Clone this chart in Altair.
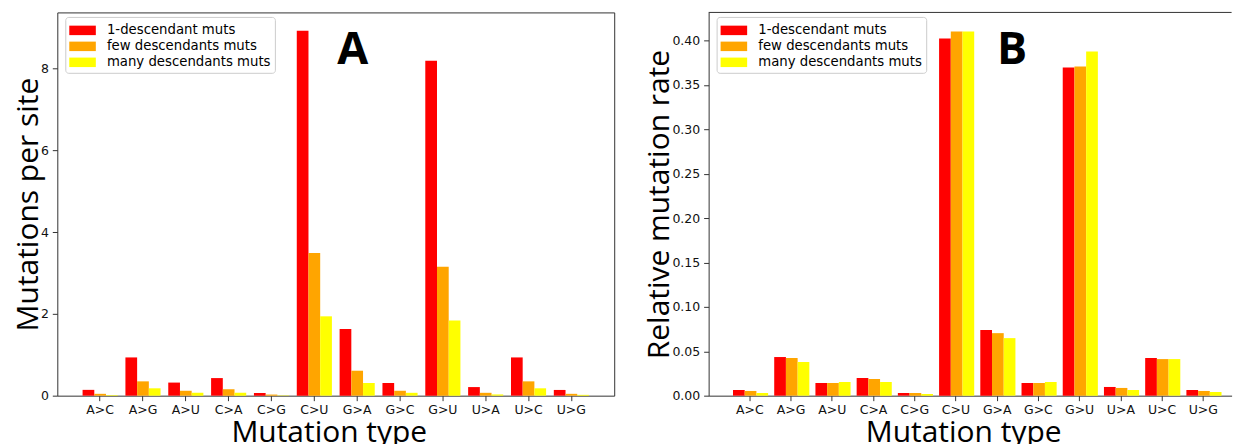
import altair as alt
import pandas as pd

mutation_types = ["A>C", "A>G", "A>U", "C>A", "C>G", "C>U",
                  "G>A", "G>C", "G>U", "U>A", "U>C", "U>G"]
groups = ["1-descendant muts", "few descendants muts", "many descendants muts"]
colors = ["#ff0000", "#ffa500", "#ffff00"]

# Panel A: mutations per site
a_one = [0.142, 0.935, 0.32, 0.43, 0.065, 8.92, 1.63, 0.31, 8.19, 0.21, 0.935, 0.14]
a_few = [0.045, 0.35, 0.12, 0.16, 0.027, 3.49, 0.61, 0.12, 3.15, 0.07, 0.35, 0.045]
a_many = [0.014, 0.18, 0.07, 0.07, 0.009, 1.94, 0.31, 0.07, 1.84, 0.03, 0.18, 0.02]

# Panel B: relative mutation rate
b_one = [0.0064, 0.0435, 0.0143, 0.0199, 0.003, 0.402, 0.0738, 0.0143, 0.3695, 0.0098, 0.0424, 0.0064]
b_few = [0.0053, 0.0424, 0.0143, 0.0188, 0.003, 0.410, 0.0704, 0.0143, 0.3705, 0.0087, 0.0412, 0.0053]
b_many = [0.003, 0.0379, 0.0154, 0.0154, 0.0019, 0.410, 0.0648, 0.0154, 0.3875, 0.0064, 0.0412, 0.0042]

a_ticks = [0, 2, 4, 6, 8]
b_ticks = [0.0, 0.05, 0.10, 0.15, 0.20, 0.25, 0.30, 0.35, 0.40]
letters = ["A", "B"]

SWATCH = "M-1,-0.5L1.8,-0.5L1.8,0.5L-1,0.5Z"
AXIS_COLOR = "#333333"


def panel(one, few, many, ytitle, ymax, yticks, yfmt, width, letter, letter_x,
          xscale, boxed):
    df = pd.DataFrame({
        "type": mutation_types * 3,
        "group": [groups[0]] * 12 + [groups[1]] * 12 + [groups[2]] * 12,
        "value": one + few + many,
    })
    bars = alt.Chart(df).mark_bar().encode(
        x=alt.X("type:N", sort=mutation_types, title="Mutation type",
                scale=xscale,
                axis=alt.Axis(labelAngle=0, titlePadding=1, titleX=width / 2 - 7,
                              domain=not boxed)),
        xOffset=alt.XOffset("group:N", sort=groups),
        y=alt.Y("value:Q", title=ytitle,
                scale=alt.Scale(domain=[0, ymax], nice=False, zero=True),
                axis=alt.Axis(values=yticks, format=yfmt, titlePadding=-3,
                              domain=not boxed)),
        color=alt.Color("group:N", sort=groups,
                        scale=alt.Scale(domain=groups, range=colors),
                        legend=alt.Legend(
                            title=None, orient="none", legendX=8, legendY=4.5,
                            padding=4, rowPadding=0,
                            symbolType=SWATCH, symbolSize=361,
                            symbolStrokeWidth=0, labelOffset=18.7,
                            labelFont="DejaVu Sans", labelFontSize=13.3,
                            labelColor="#000000", labelLimit=400,
                            fillColor="rgba(255,255,255,0.8)",
                            strokeColor="#cccccc", cornerRadius=3)),
    )
    txt = alt.Chart(pd.DataFrame({"letter": [letter]})).mark_text(
        font="Open Sans", fontWeight="bold", fontSize=45,
        align="center", baseline="alphabetic", color="#000000"
    ).encode(x=alt.value(letter_x), y=alt.value(52), text="letter:N")
    layers = [bars, txt]
    if not boxed:
        top_edge = alt.Chart(pd.DataFrame({"edge": [0]})).mark_rule(
            color=AXIS_COLOR, strokeWidth=1
        ).encode(x=alt.value(0), x2=alt.value(width), y=alt.value(0))
        layers.append(top_edge)
    view = alt.ViewBackground(stroke=AXIS_COLOR if boxed else "transparent",
                              strokeWidth=1)
    return alt.layer(*layers).properties(width=width, height=384, view=view)


chart_a = panel(a_one, a_few, a_many, "Mutations per site", 9.37,
                a_ticks, "d", 558, letters[0], 296,
                alt.Scale(paddingInner=0.18, paddingOuter=0.59), True)
chart_b = panel(b_one, b_few, b_many, "Relative mutation rate", 0.4315,
                b_ticks, ".2f", 524, letters[1], 304,
                alt.Scale(paddingInner=0.18, paddingOuter=0.434, align=0.681), False)

chart = alt.hconcat(chart_a, chart_b, spacing=28.6).resolve_scale(
    color="independent"
).properties(
    padding={"left": 4.4, "top": 3, "right": 0, "bottom": 0}
).configure_axis(
    grid=False, tickSize=5, tickColor=AXIS_COLOR, tickWidth=1,
    domainColor=AXIS_COLOR, domainWidth=1,
    labelFont="DejaVu Sans", labelFontSize=12.5, labelColor="#111111",
    labelPadding=4,
    titleFont="Open Sans", titleFontSize=30, titleFontWeight="normal",
    titleColor="#000000"
).configure_axisX(labelPadding=3)

chart.save("out.html", embed_options={"renderer": "svg", "actions": False})
